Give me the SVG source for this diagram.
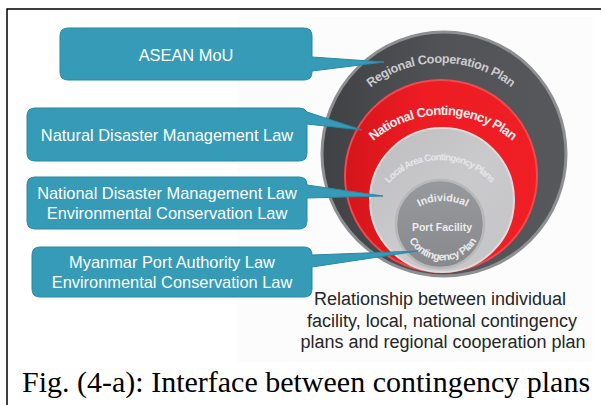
<svg xmlns="http://www.w3.org/2000/svg" width="601" height="405" viewBox="0 0 601 405">
  <defs>
    <linearGradient id="gOuter" x1="0" y1="0" x2="1" y2="0">
      <stop offset="0" stop-color="#404145"/>
      <stop offset="0.5" stop-color="#525357"/>
      <stop offset="1" stop-color="#57585c"/>
    </linearGradient>
    <linearGradient id="gRed" x1="0" y1="0" x2="1" y2="0">
      <stop offset="0" stop-color="#d4151b"/>
      <stop offset="0.4" stop-color="#ee1c23"/>
      <stop offset="1" stop-color="#ef1f25"/>
    </linearGradient>
    <linearGradient id="gLight" x1="0" y1="0" x2="1" y2="1">
      <stop offset="0" stop-color="#bdbdc0"/>
      <stop offset="0.5" stop-color="#cacacc"/>
      <stop offset="1" stop-color="#c4c4c6"/>
    </linearGradient>
    <linearGradient id="gInner" x1="0" y1="0" x2="0" y2="1">
      <stop offset="0" stop-color="#98999c"/>
      <stop offset="1" stop-color="#88898d"/>
    </linearGradient>
    <path id="arcRegional" d="M343.1,119.5 A113,113 0 0 1 538.9,119.5"/>
    <path id="arcNational" d="M351.2,168 A106,106 0 0 1 534.8,168"/>
    <path id="arcLocal" d="M378.4,199.3 A68,68 0 0 1 501.6,199.3"/>
    <path id="arcIndividual" d="M406.9,215.9 A51,51 0 0 1 479.1,215.9"/>
    <path id="arcContingency" d="M406.8,208.8 A38.5,38.5 0 1 0 479.2,208.8"/>
  </defs>
  <style>
    .frame { fill: none; stroke: #000; stroke-width: 1.5; }
    .callout { fill: #359bb7; stroke: #2b89a3; stroke-width: 1; }
    .boxText { font-family: "Liberation Sans", Arial, sans-serif; font-size: 16.4px; fill: #ffffff; text-anchor: middle; }
    .ringText { font-family: "Liberation Sans", Arial, sans-serif; font-weight: bold; text-anchor: middle; }
    .note { font-family: "Liberation Sans", Arial, sans-serif; font-size: 18px; fill: #262626; text-anchor: middle; }
    .caption { font-family: "Liberation Serif", "Times New Roman", serif; font-size: 30px; fill: #000; }
  </style>

  <rect width="601" height="405" fill="#ffffff"/>
  <!-- faint backdrop panel behind the rings -->
  <rect x="237" y="17" width="356" height="345" fill="#fcfcfc"/>
  <!-- figure frame (open to right and bottom) -->
  <path class="frame" d="M7,405 V9 H601"/>

  <!-- nested plan rings -->
  <g id="ring-regional">
    <circle cx="444" cy="154" r="122" fill="url(#gOuter)" stroke="#8e8f92" stroke-width="3"/>
    <text class="ringText" font-size="12.5" fill="#cbccce"><textPath href="#arcRegional" startOffset="50%" textLength="152" lengthAdjust="spacing">Regional Cooperation Plan</textPath></text>
  </g>
  <g id="ring-national">
    <circle cx="441" cy="176" r="96" fill="url(#gRed)" stroke="#f04a4f" stroke-width="2"/>
    <text class="ringText" font-size="13" fill="#fbefef"><textPath href="#arcNational" startOffset="50%" textLength="152" lengthAdjust="spacing">National Contingency Plan</textPath></text>
  </g>
  <g id="ring-local">
    <circle cx="442" cy="200" r="72" fill="url(#gLight)" stroke="#dcdcde" stroke-width="2"/>
    <text class="ringText" font-size="9.5" fill="#e6e6e8"><textPath href="#arcLocal" startOffset="50%" textLength="116" lengthAdjust="spacing">Local Area Contingency Plans</textPath></text>
  </g>
  <g id="ring-individual">
    <circle cx="440" cy="224" r="44" fill="url(#gInner)" stroke="#b7b8ba" stroke-width="2.5"/>
    <text class="ringText" font-size="10.5" fill="#ececee"><textPath href="#arcIndividual" startOffset="50%">Individual</textPath></text>
    <text class="ringText" font-size="10.5" fill="#ececee" x="442" y="231">Port Facility</text>
    <text class="ringText" font-size="10.5" fill="#ececee"><textPath href="#arcContingency" startOffset="50%" textLength="82" lengthAdjust="spacing">Contingency Plan</textPath></text>
  </g>

  <!-- callouts pointing at the rings -->
  <g id="callout-asean">
    <path class="callout" d="M68,28 H304 Q312,28 312,36 V57 L384,62 L312,71 V72 Q312,80 304,80 H68 Q60,80 60,72 V36 Q60,28 68,28 Z"/>
    <text class="boxText" x="186" y="61">ASEAN MoU</text>
  </g>
  <g id="callout-natural">
    <path class="callout" d="M35,108 H299 Q305,108 307,112 L362,130 L307,124 V153 Q307,161 299,161 H35 Q27,161 27,153 V116 Q27,108 35,108 Z"/>
    <text class="boxText" x="167" y="141">Natural Disaster Management Law</text>
  </g>
  <g id="callout-national">
    <path class="callout" d="M35,177 H299 Q307,177 307,185 L383,196 L307,198 V221 Q307,229 299,229 H35 Q27,229 27,221 V185 Q27,177 35,177 Z"/>
    <text class="boxText" x="167" y="199">National Disaster Management Law</text>
    <text class="boxText" x="167" y="219">Environmental Conservation Law</text>
  </g>
  <g id="callout-port">
    <path class="callout" d="M40,247 H304 Q312,247 312,255 L418,251 L312,267 V289 Q312,297 304,297 H40 Q32,297 32,289 V255 Q32,247 40,247 Z"/>
    <text class="boxText" x="172" y="268">Myanmar Port Authority Law</text>
    <text class="boxText" x="172" y="288">Environmental Conservation Law</text>
  </g>

  <g id="connectors"></g>

  <!-- explanatory note and figure caption -->
  <text class="note" x="440" y="305">Relationship between individual</text>
  <text class="note" x="442" y="327">facility, local, national contingency</text>
  <text class="note" x="443" y="348">plans and regional cooperation plan</text>
  <text class="caption" x="22" y="392">Fig. (4-a): Interface between contingency plans</text>
</svg>
